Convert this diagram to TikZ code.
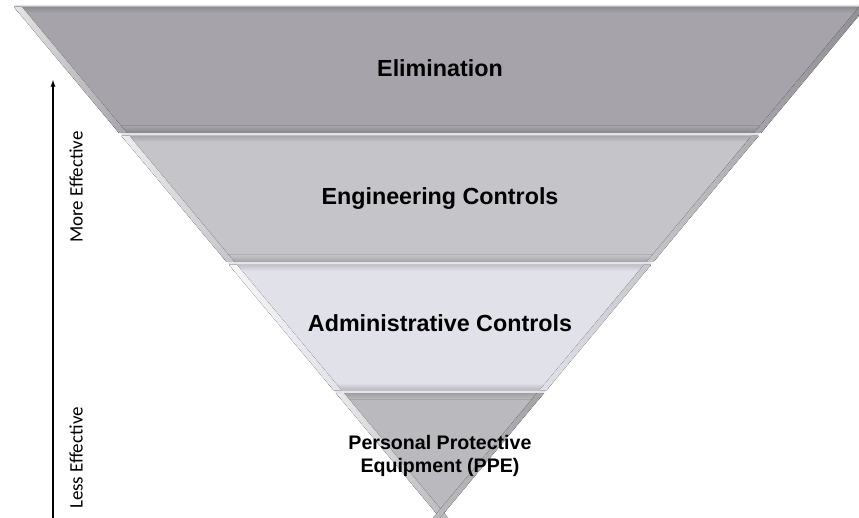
\documentclass[tikz,border=0pt]{standalone}
\usepackage{fontspec}
\setmainfont{Liberation Sans}
\newfontfamily\sidefont{Carlito}
\usepackage{tikz}
\usetikzlibrary{arrows}
\usepackage{xcolor}

\definecolor{bandA}{HTML}{A6A4AA}
\definecolor{bandB}{HTML}{C5C4C9}
\definecolor{bandC}{HTML}{E1E1E9}
\definecolor{bandD}{HTML}{BAB9BE}
\definecolor{seam}{HTML}{E4E4E8}

\begin{document}
\begin{tikzpicture}[x=1pt,y=-1pt,
	declare function={xl(\y)=14+0.834*(\y-7); xr(\y)=866-0.834*(\y-7);},
	band/.style={fill=#1},
	rim/.style={top color=#1!86!black,bottom color=#1},
	foot/.style={top color=#1,bottom color=#1!82!black},
	glint/.style={left color=white!70!#1,right color=#1},
	shade/.style={left color=#1,right color=#1!88!black},
	bandtext/.style={font=\bfseries\fontsize{23.3}{28}\selectfont,anchor=base},
	sidetext/.style={font=\sidefont\fontsize{19}{23}\selectfont,rotate=90}
	]

	\clip (0,0) rectangle (859,518);
	\fill[white] (0,0) rectangle (859,518);
	\fill[seam] ({xl(7)},5) -- ({xr(7)},5) -- (440,518) -- cycle;

	\foreach \yt/\yb/\col in {7/133/bandA, 136/262/bandB, 265/390/bandC, 393/518/bandD}{
		\fill[band=\col] ({xl(\yt)},\yt) -- ({xr(\yt)},\yt) -- ({xr(\yb)},\yb) -- ({xl(\yb)},\yb) -- cycle;
		\fill[rim=\col] ({xl(\yt)},\yt) -- ({xr(\yt)},\yt) -- ({xr(\yt+6)},\yt+6) -- ({xl(\yt+6)},\yt+6) -- cycle;
		\fill[foot=\col] ({xl(\yb-7)},\yb-7) -- ({xr(\yb-7)},\yb-7) -- ({xr(\yb)},\yb) -- ({xl(\yb)},\yb) -- cycle;
		\fill[glint=\col] ({xl(\yt)},\yt) -- ({xl(\yt)+8},\yt) -- ({xl(\yb)+8},\yb) -- ({xl(\yb)},\yb) -- cycle;
		\fill[shade=\col] ({xr(\yt)-7},\yt) -- ({xr(\yt)},\yt) -- ({xr(\yb)},\yb) -- ({xr(\yb)-7},\yb) -- cycle;
	}

	\node[bandtext] (elim) at (440,77) {Elimination};
	\node[bandtext] (eng) at (440,205) {Engineering Controls};
	\node[bandtext] (adm) at (440,332) {Administrative Controls};
	\node[bandtext,anchor=center,align=center,font=\bfseries\fontsize{19.6}{23}\selectfont] (ppe) at (440,456) {Personal Protective\\Equipment (PPE)};

	\coordinate (low) at (53,518);
	\coordinate (high) at (53,80);
	\draw [-latex,line width=1.3pt] (low) -- (high);

	\node[sidetext] (more) at (76,187) {More Effective};
	\node[sidetext] (less) at (76,458) {Less Effective};
\end{tikzpicture}
\end{document}
